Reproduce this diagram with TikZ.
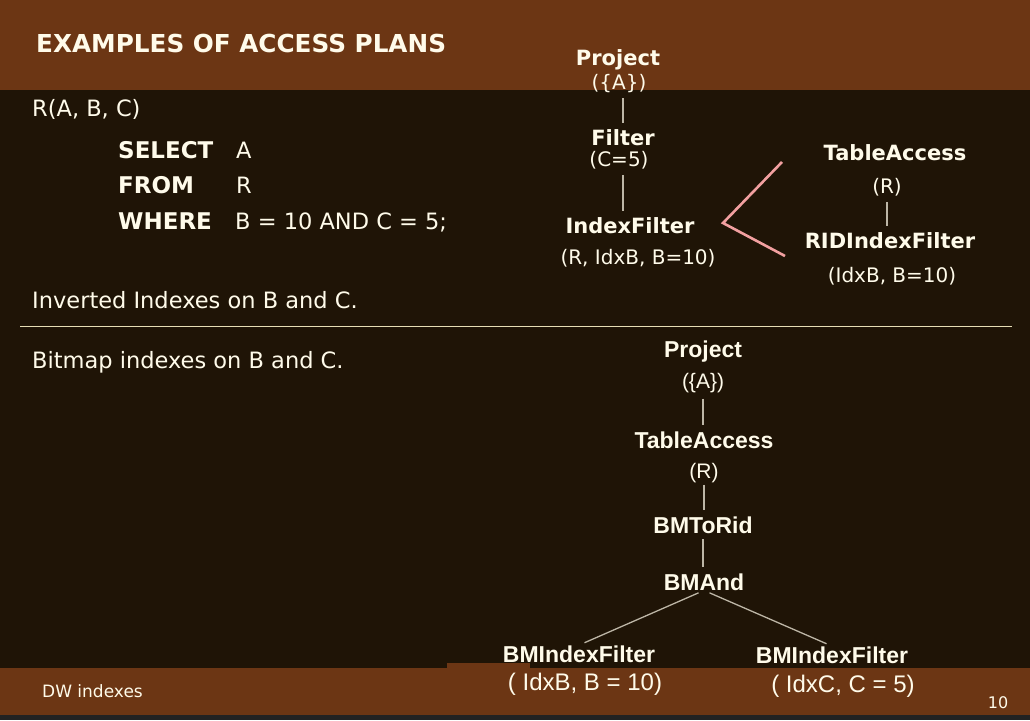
\documentclass[tikz,border=0pt]{standalone}
\usepackage{fontspec}
\setmainfont{DejaVu Sans}
\newfontfamily\plainsans{Liberation Sans}
\usetikzlibrary{positioning,calc}
\definecolor{slidebrown}{HTML}{6C3614}
\definecolor{slidedark}{HTML}{1F1406}
\definecolor{stripgray}{HTML}{222222}
\definecolor{chalk}{HTML}{FFFBEA}
\definecolor{treegray}{HTML}{BDB6A6}
\definecolor{forkpink}{HTML}{F2A0A0}
\definecolor{rulecream}{HTML}{E6DDB4}

\tikzset{
  slidetext/.style={text=chalk, inner sep=0pt, anchor=base west, font=\fontsize{22.5}{26}\selectfont},
  sqlkey/.style={slidetext, font=\bfseries\fontsize{23}{27}\selectfont},
  planop/.style={text=chalk, inner sep=0pt, anchor=base, font=\bfseries\fontsize{21}{25}\selectfont},
  planarg/.style={planop, font=\fontsize{20}{24}\selectfont},
  bmop/.style={text=chalk, inner sep=0pt, anchor=base, font=\plainsans\bfseries\fontsize{23}{27}\selectfont},
  bmarg/.style={bmop, font=\plainsans\fontsize{24}{28}\selectfont},
  bmsmall/.style={bmop, font=\plainsans\fontsize{21}{25}\selectfont},
  treeline/.style={draw=treegray, line width=1.3pt, shorten <=6pt, shorten >=6pt},
  forkline/.style={draw=forkpink, line width=2.6pt},
}

\begin{document}
\begin{tikzpicture}[x=1pt, y=-1pt]
  % slide background
  \useasboundingbox (0,0) rectangle (1030,720);
  \fill[slidedark] (0,0) rectangle (1030,720);
  \fill[slidebrown] (0,0) rectangle (1030,90);
  \fill[slidebrown] (0,668) rectangle (1030,715);
  \fill[slidebrown] (447,663) rectangle (530,668);
  \fill[stripgray] (0,715) rectangle (1030,720);

  % title and query
  \node[slidetext, font=\bfseries\fontsize{24.7}{29}\selectfont] (title) at (36,52) {EXAMPLES OF ACCESS PLANS};
  \node[slidetext] (schema) at (32,116) {R(A, B, C)};
  \node[sqlkey] (kselect) at (118,158) {SELECT};
  \node[sqlkey] (kfrom) at (118,193) {FROM};
  \node[sqlkey] (kwhere) at (118,229) {WHERE};
  \node[slidetext] (vselect) at (236,158) {A};
  \node[slidetext] (vfrom) at (236,193) {R};
  \node[slidetext] (vwhere) at (235,229) {B = 10 AND C = 5;};
  \node[slidetext] (inverted) at (32,308) {Inverted Indexes on B and C.};
  \draw[rulecream, line width=1pt] (20,326) -- (1012,326);
  \node[slidetext] (bitmap) at (32,368) {Bitmap indexes on B and C.};

  % plan with inverted indexes
  \node[planop] (proj) at (618,65) {Project};
  \node[planarg] (projarg) at (619,89) {(\{A\})};
  \node[planop] (filt) at (623,145) {Filter};
  \node[planarg] (filtarg) at (619,166) {(C=5)};
  \node[planop] (ixfilt) at (630,233) {IndexFilter};
  \node[planarg] (ixfiltarg) at (638,264) {(R, IdxB, B=10)};
  \node[planop] (tabacc) at (895,160) {TableAccess};
  \node[planarg] (tabaccarg) at (887,193) {(R)};
  \node[planop] (ridfilt) at (890,248) {RIDIndexFilter};
  \node[planarg] (ridfiltarg) at (892,282) {(IdxB, B=10)};
  \draw[treeline] (projarg.south -| filt) -- (filt.north);
  \draw[treeline] (filtarg.south -| filt) -- (ixfilt.north -| filt);
  \draw[treeline] (tabaccarg.south) -- (ridfilt.north -| tabaccarg);
  \coordinate (forktop) at (782,162);
  \coordinate (forktip) at (723,223);
  \coordinate (forkbot) at (785,256);
  \draw[forkline] (forktop) -- (forktip) -- (forkbot);

  % plan with bitmap indexes
  \node[bmop] (bproj) at (703,357) {Project};
  \node[bmsmall] (bprojarg) at (703,388) {(\{A\})};
  \node[bmop] (btab) at (704,448) {TableAccess};
  \node[bmsmall] (btabarg) at (704,478) {(R)};
  \node[bmop] (btorid) at (703,533) {BMToRid};
  \node[bmop] (band) at (704,590) {BMAnd};
  \node[bmop] (bidxb) at (579,662) {BMIndexFilter};
  \node[bmarg] (bidxbarg) at (585,690) {( IdxB, B = 10)};
  \node[bmop] (bidxc) at (832,663) {BMIndexFilter};
  \node[bmarg] (bidxcarg) at (843,692) {( IdxC, C = 5)};
  \draw[treeline] (bprojarg.south) -- (btab.north -| bprojarg);
  \draw[treeline, shorten <=2pt] (btabarg.south) -- (btorid.north -| btabarg);
  \draw[treeline] (btorid.south) -- (band.north -| btorid);
  \draw[treeline] (band.south) -- (bidxb.north);
  \draw[treeline] (band.south) -- (bidxc.north);

  % footer
  \node[slidetext, font=\fontsize{17}{20}\selectfont] (footer) at (42,697) {DW indexes};
  \node[planarg, font=\fontsize{16}{19}\selectfont] (pageno) at (998,708) {10};
\end{tikzpicture}
\end{document}
